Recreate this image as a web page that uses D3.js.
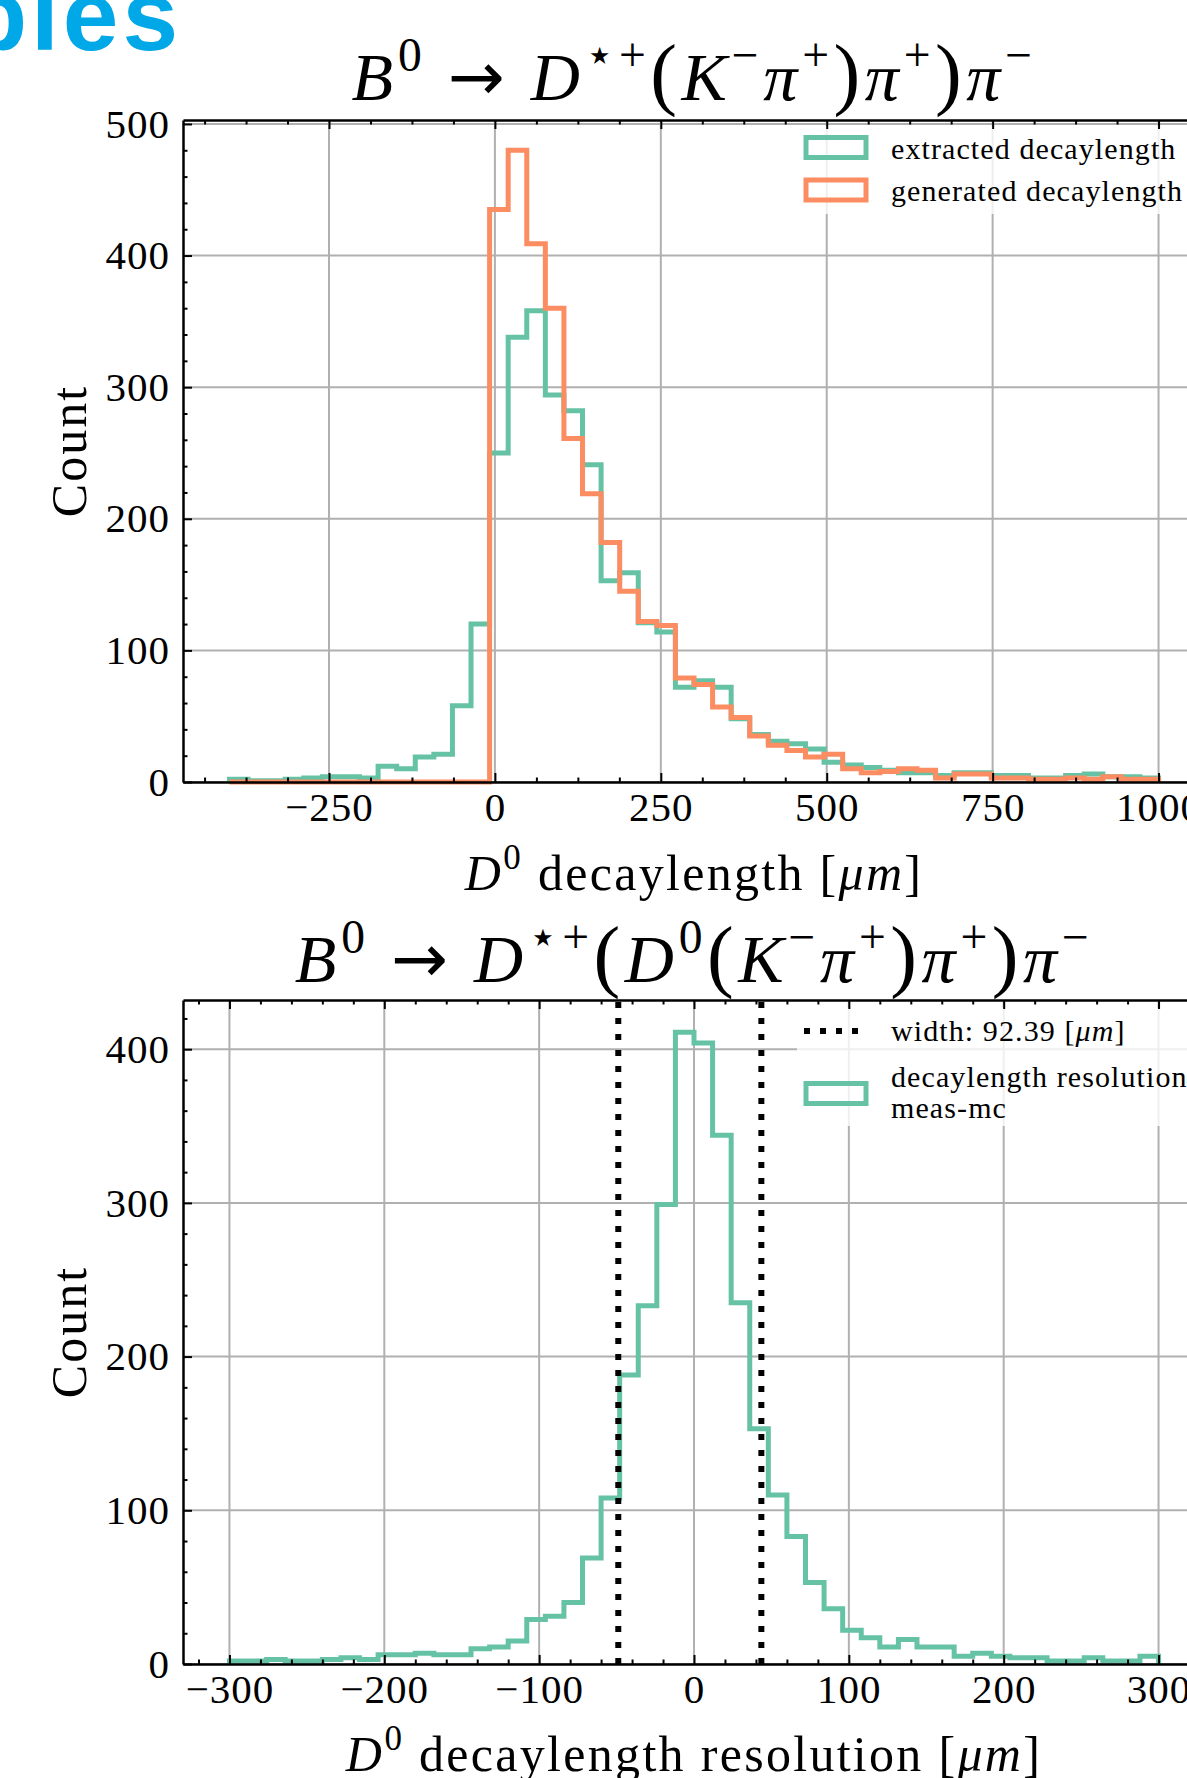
<!DOCTYPE html>
<html>
<head>
<meta charset="utf-8">
<script src="https://cdn.jsdelivr.net/npm/d3@7"></script>
<style>
  html, body { margin: 0; padding: 0; background: #fff; overflow: hidden; }
  svg { display: block; }
</style>
</head>
<body>
<div id="chart"></div>
<script>
// counts per bin
// upper panel: 50 bins of 28 um from -400 to 1000
var extractedCounts = [2, 1, 1, 2, 3, 4, 4, 3, 12, 10,
  19, 21, 58, 120, 250, 338, 358, 294, 282, 241,
  153, 159, 121, 114, 72, 77, 72, 48, 36, 31,
  29, 25, 15, 13, 11, 9, 7, 7, 5, 7,
  7, 5, 5, 3, 3, 5, 6, 4, 4, 3];
var generatedCounts = [0, 0, 0, 0, 0, 0, 0, 0, 0, 0,
  0, 0, 0, 0, 435, 480, 409, 360, 261, 219,
  182, 145, 122, 119, 79, 74, 57, 49, 35, 28,
  24, 19, 21, 10, 7, 8, 10, 9, 3, 6,
  6, 3, 3, 2, 2, 3, 2, 4, 2, 2];
// lower panel: 50 bins of 12 um from -300 to 300
var resolutionCounts = [2, 2, 3, 2, 2, 3, 4, 3, 6, 6,
  7, 6, 6, 10, 11, 15, 29, 31, 40, 69,
  108, 188, 233, 299, 411, 404, 344, 235, 153, 110,
  83, 53, 36, 22, 17, 11, 16, 11, 11, 5,
  7, 5, 4, 4, 2, 2, 4, 2, 2, 5];

var topBinStart = -400, topBinWidth = 28;
var resBinStart = -300, resBinWidth = 12;

var topXTicks = [-250, 0, 250, 500, 750, 1000];
var topYTicks = [0, 100, 200, 300, 400, 500];
var resXTicks = [-300, -200, -100, 0, 100, 200, 300];
var resYTicks = [0, 100, 200, 300, 400];

var widthLines = [-48.9, 43.5]; // dotted lines, lower panel
var widthLabel = "92.39";

var green = "#66c2a5", orange = "#fc8d62";
var serif = "'Liberation Serif', 'DejaVu Serif', 'DejaVu Sans', serif";

var svg = d3.select("#chart").append("svg")
  .attr("width", 1187)
  .attr("height", 1778);

// slide title leftover, cut by the crop
svg.append("text")
  .attr("x", -34).attr("y", 50)
  .style("font-family", "'Liberation Sans', Arial, sans-serif")
  .style("font-weight", "bold")
  .style("font-size", "100px")
  .style("letter-spacing", "4px")
  .style("fill", "#00a8e8")
  .text("bles");

// write math-ish text with tspans
// style: i italic, r roman, p big paren, a arrow, si/sr superscript
function addMath(text, parts, size, gap){
  var cur = 0, prevItalic = false;
  parts.forEach(function(p){
    var sup = p[1].charAt(0) === "s";
    var off = sup ? -0.42 * size : 0;
    var fs = size;
    if(sup) fs = 0.7 * size;
    if(p[1] === "p") fs = 1.18 * size;
    var t = text.append("tspan")
      .attr("dy", off - cur)
      .attr("dx", sup ? (prevItalic ? 0.05 * size : 0) - gap : 0)
      .style("font-size", fs + "px")
      .style("font-style", p[1].indexOf("i") >= 0 ? "italic" : "normal")
      .text(p[0]);
    if(p[1] === "a") t.style("font-family", "'DejaVu Sans', sans-serif");
    cur = off;
    prevItalic = p[1] === "i";
  });
}

function histPath(counts, start, width, x, y){
  var pts = [{e: start, v: 0}];
  counts.forEach(function(c, i){ pts.push({e: start + i * width, v: c}); });
  var end = start + counts.length * width;
  pts.push({e: end, v: counts[counts.length - 1]});
  pts.push({e: end, v: 0});
  return d3.line()
    .x(function(d){ return x(d.e); })
    .y(function(d){ return y(d.v); })
    .curve(d3.curveStepAfter)(pts);
}

function drawPanel(cfg){
  var x = d3.scaleLinear().domain(cfg.xDomain).range([183, 1205]);
  var y = d3.scaleLinear().domain(cfg.yDomain).range([cfg.bottom, cfg.top]);
  var g = svg.append("g");
  var fmt = d3.format("d");

  // grid
  g.append("g").selectAll("line").data(cfg.xTicks).enter().append("line")
    .attr("x1", function(d){ return x(d); }).attr("x2", function(d){ return x(d); })
    .attr("y1", cfg.top).attr("y2", cfg.bottom)
    .style("stroke", "#b0b0b0").style("stroke-width", 2);
  g.append("g").selectAll("line").data(cfg.yTicks).enter().append("line")
    .attr("y1", function(d){ return y(d); }).attr("y2", function(d){ return y(d); })
    .attr("x1", 183).attr("x2", 1205)
    .style("stroke", "#b0b0b0").style("stroke-width", 2);

  // histograms
  cfg.series.forEach(function(s){
    g.append("path")
      .attr("d", histPath(s.counts, cfg.binStart, cfg.binWidth, x, y))
      .style("fill", "none")
      .style("stroke", s.color)
      .style("stroke-width", 5)
      .style("stroke-linejoin", "miter");
  });

  (cfg.vlines || []).forEach(function(v){
    g.append("line")
      .attr("x1", x(v)).attr("x2", x(v))
      .attr("y1", cfg.bottom).attr("y2", cfg.top)
      .style("stroke", "#000").style("stroke-width", 6)
      .style("stroke-dasharray", "6,10");
  });

  // legend
  var lg = g.append("g");
  lg.append("rect")
    .attr("x", cfg.legend.x).attr("y", cfg.legend.y)
    .attr("width", 1205 - cfg.legend.x).attr("height", cfg.legend.h)
    .attr("rx", 4)
    .style("fill", "#fff").style("fill-opacity", 0.8);
  cfg.legend.rows.forEach(function(r){
    if(r.kind === "dots"){
      lg.append("line")
        .attr("x1", 804).attr("x2", 858).attr("y1", r.y).attr("y2", r.y)
        .style("stroke", "#000").style("stroke-width", 6)
        .style("stroke-dasharray", "6,10");
    } else {
      lg.append("rect")
        .attr("x", 806).attr("y", r.y - 10).attr("width", 60).attr("height", 20)
        .style("fill", "none").style("stroke", r.color).style("stroke-width", 5);
    }
    r.lines.forEach(function(l, j){
      var t = lg.append("text")
        .attr("x", 891).attr("y", r.textY[j])
        .attr("dominant-baseline", "central")
        .style("font-family", serif).style("font-size", "30px")
        .style("letter-spacing", "1.1px");
      addMath(t, l, 30, 0);
    });
  });

  // axes: ticks inside on all sides
  function styleAxis(a){
    a.select(".domain").style("stroke-width", 2.5);
    a.selectAll(".tick line").style("stroke-width", 2);
    a.selectAll("text").style("font-family", serif).style("font-size", "41px")
      .style("letter-spacing", "1px").style("fill", "#000");
  }
  var xb = g.append("g").attr("transform", "translate(0," + cfg.bottom + ")")
    .call(d3.axisBottom(x).tickValues(cfg.xTicks).tickFormat(fmt)
      .tickSize(-9).tickSizeOuter(0).tickPadding(10));
  styleAxis(xb);
  g.append("g").attr("transform", "translate(0," + cfg.bottom + ")")
    .call(d3.axisBottom(x).tickValues(cfg.xMinor).tickSize(-4.5).tickFormat(""))
    .call(function(a){ a.select(".domain").remove(); a.selectAll("line").style("stroke-width", 2); });
  var xt = g.append("g").attr("transform", "translate(0," + cfg.top + ")")
    .call(d3.axisTop(x).tickValues(cfg.xTicks).tickSize(-9).tickSizeOuter(0).tickFormat(""));
  styleAxis(xt);
  g.append("g").attr("transform", "translate(0," + cfg.top + ")")
    .call(d3.axisTop(x).tickValues(cfg.xMinor).tickSize(-4.5).tickFormat(""))
    .call(function(a){ a.select(".domain").remove(); a.selectAll("line").style("stroke-width", 2); });

  var yl = g.append("g").attr("transform", "translate(183,0)")
    .call(d3.axisLeft(y).tickValues(cfg.yTicks).tickFormat(fmt)
      .tickSize(-9).tickSizeOuter(0).tickPadding(13));
  styleAxis(yl);
  g.append("g").attr("transform", "translate(183,0)")
    .call(d3.axisLeft(y).tickValues(cfg.yMinor).tickSize(-4.5).tickFormat(""))
    .call(function(a){ a.select(".domain").remove(); a.selectAll("line").style("stroke-width", 2); });
  var yr = g.append("g").attr("transform", "translate(1205,0)")
    .call(d3.axisRight(y).tickValues(cfg.yTicks).tickSize(-9).tickSizeOuter(0).tickFormat(""));
  styleAxis(yr);

  // titles
  var title = g.append("text")
    .attr("x", 694).attr("y", cfg.titleY)
    .attr("text-anchor", "middle")
    .style("font-family", serif).style("font-size", "68px")
    .style("letter-spacing", "4.5px");
  addMath(title, cfg.title, 68, 3);

  var xlab = g.append("text")
    .attr("x", 694).attr("y", cfg.xLabelY)
    .attr("text-anchor", "middle")
    .style("font-family", serif).style("font-size", "50px")
    .style("letter-spacing", "2.3px");
  addMath(xlab, cfg.xLabel, 50, 2.3);

  g.append("text")
    .attr("transform", "translate(86," + ((cfg.top + cfg.bottom) / 2) + ") rotate(-90)")
    .attr("text-anchor", "middle")
    .style("font-family", serif).style("font-size", "50px")
    .style("letter-spacing", "2px")
    .text("Count");
}

function minorTicks(lo, hi, step, majors){
  return d3.range(Math.ceil(lo / step) * step, hi, step).filter(function(v){
    return majors.indexOf(v) < 0;
  });
}

drawPanel({
  top: 120, bottom: 782,
  xDomain: [-470, 1070], yDomain: [0, 503],
  xTicks: topXTicks, yTicks: topYTicks,
  xMinor: minorTicks(-470, 1070, 62.5, topXTicks),
  yMinor: minorTicks(0, 503, 20, topYTicks),
  binStart: topBinStart, binWidth: topBinWidth,
  series: [
    {counts: extractedCounts, color: green},
    {counts: generatedCounts, color: orange}
  ],
  legend: {
    x: 795, y: 126, h: 88,
    rows: [
      {color: green, y: 147.5, textY: [148], lines: [[["extracted decaylength", "r"]]]},
      {color: orange, y: 190, textY: [190], lines: [[["generated decaylength", "r"]]]}
    ]
  },
  titleY: 100,
  title: [["B", "i"], ["0", "sr"], [" ", "r"], ["\u2192", "a"], [" ", "r"], ["D", "i"], ["\u22c6+", "sr"],
    ["(", "p"], ["K", "i"], ["\u2212", "sr"], ["\u03c0", "i"], ["+", "sr"], [")", "p"],
    ["\u03c0", "i"], ["+", "sr"], [")", "p"], ["\u03c0", "i"], ["\u2212", "sr"]],
  xLabelY: 890,
  xLabel: [["D", "i"], ["0", "sr"], [" decaylength [", "r"], ["\u03bcm", "i"], ["]", "r"]]
});

drawPanel({
  top: 1000, bottom: 1664,
  xDomain: [-330, 330], yDomain: [0, 432],
  xTicks: resXTicks, yTicks: resYTicks,
  xMinor: minorTicks(-330, 330, 20, resXTicks),
  yMinor: minorTicks(0, 432, 20, resYTicks),
  binStart: resBinStart, binWidth: resBinWidth,
  series: [{counts: resolutionCounts, color: green}],
  vlines: widthLines,
  legend: {
    x: 797, y: 1008, h: 118,
    rows: [
      {kind: "dots", y: 1031, textY: [1030],
        lines: [[["width: " + widthLabel + " [", "r"], ["\u03bcm", "i"], ["]", "r"]]]},
      {color: green, y: 1093.5, textY: [1076, 1107],
        lines: [[["decaylength resolution", "r"]], [["meas-mc", "r"]]]}
    ]
  },
  titleY: 982,
  title: [["B", "i"], ["0", "sr"], [" ", "r"], ["\u2192", "a"], [" ", "r"], ["D", "i"], ["\u22c6+", "sr"],
    ["(", "p"], ["D", "i"], ["0", "sr"], ["(", "p"], ["K", "i"], ["\u2212", "sr"], ["\u03c0", "i"], ["+", "sr"], [")", "p"],
    ["\u03c0", "i"], ["+", "sr"], [")", "p"], ["\u03c0", "i"], ["\u2212", "sr"]],
  xLabelY: 1771,
  xLabel: [["D", "i"], ["0", "sr"], [" decaylength resolution [", "r"], ["\u03bcm", "i"], ["]", "r"]]
});
</script>
</body>
</html>
